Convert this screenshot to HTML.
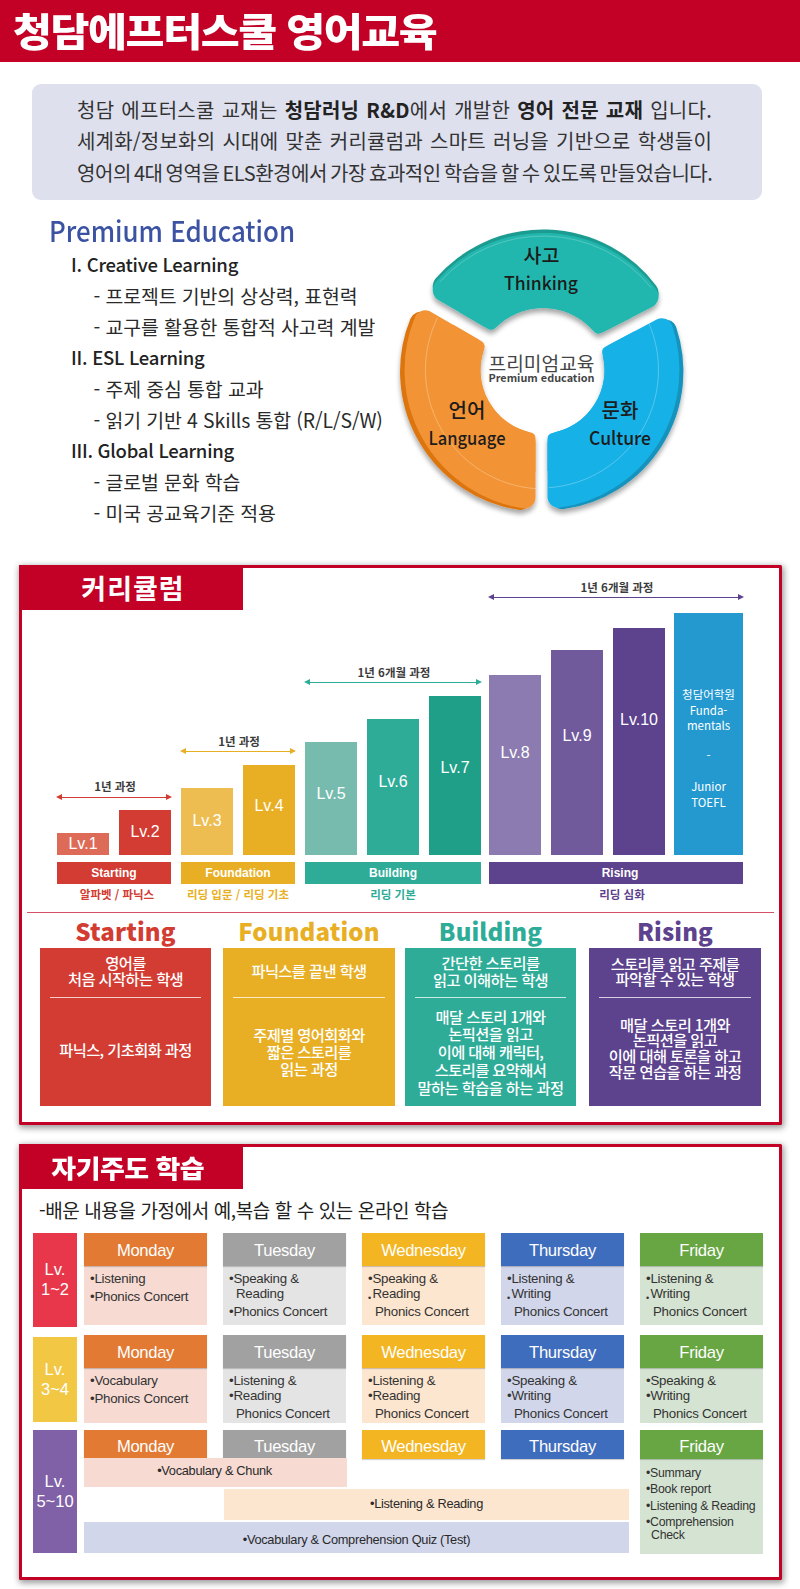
<!DOCTYPE html>
<html lang="ko">
<head>
<meta charset="utf-8">
<title>청담에프터스쿨 영어교육</title>
<style>
*{margin:0;padding:0;box-sizing:border-box}
html,body{width:800px;height:1589px;overflow:hidden;background:#fff}
body{font-family:"Liberation Sans","Noto Sans CJK KR","NanumGothic",sans-serif;color:#222;position:relative}
.k{font-family:"Noto Sans CJK KR","Liberation Sans","NanumGothic",sans-serif}
.abs{position:absolute}
#page{position:absolute;left:0;top:0;width:800px;height:1589px;overflow:hidden;background:#fff}

/* header */
#hdr{left:0;top:0;width:800px;height:61.5px;background:#c30025}
#hdr h1{position:absolute;left:12.5px;top:0.5px;font-size:38.5px;line-height:56px;font-weight:900;color:#fff;letter-spacing:-1.3px;white-space:nowrap;transform:scaleX(1.1);transform-origin:0 50%}

/* intro */
#intro{left:32px;top:84px;width:730px;height:116px;background:#dee0ee;border-radius:9px}
#intro p{position:absolute;left:45px;font-size:20px;line-height:31px;white-space:nowrap;color:#333;letter-spacing:-0.3px}
#intro b{font-weight:700;color:#222}

/* premium list */
#prem{left:49px;top:210px;font-size:28px;line-height:40px;color:#3c53a4;font-weight:500;white-space:nowrap;transform:scaleX(.924);transform-origin:0 50%}
.li1{left:71px;font-size:18.5px;line-height:31px;font-weight:500;color:#222;white-space:nowrap;letter-spacing:-.25px}
.li2{left:93.5px;font-size:19.4px;line-height:31px;font-weight:400;color:#2a2a2a;white-space:nowrap;letter-spacing:-.1px}

/* section frames */
.frame{border:3px solid #c30025;border-radius:1.5px;background:#fff;box-shadow:1px 2px 6px 1px rgba(0,0,0,.4)}
.tab{background:#c30025;color:#fff;font-weight:700;text-align:center;white-space:nowrap}
</style>
</head>
<body>
<div id="page">

<!-- HEADER -->
<div id="hdr" class="abs k"><h1>청담에프터스쿨 영어교육</h1></div>

<!-- INTRO -->
<div id="intro" class="abs k">
<p style="top:10px;letter-spacing:.25px;word-spacing:1.2px">청담 에프터스쿨 교재는 <b>청담러닝 R&amp;D</b>에서 개발한 <b>영어 전문 교재</b> 입니다.</p>
<p style="top:41px;letter-spacing:.2px;word-spacing:1.4px">세계화/정보화의 시대에 맞춘 커리큘럼과 스마트 러닝을 기반으로 학생들이</p>
<p style="top:73px;letter-spacing:-.45px;word-spacing:-2.1px">영어의 4대 영역을 ELS환경에서 가장 효과적인 학습을 할 수 있도록 만들었습니다.</p>
</div>

<!-- PREMIUM LIST -->
<div id="prem" class="abs k">Premium Education</div>
<div class="abs k li1" style="top:249px">I. Creative Learning</div>
<div class="abs k li2" style="top:280px">- 프로젝트 기반의 상상력, 표현력</div>
<div class="abs k li2" style="top:311px">- 교구를 활용한 통합적 사고력 계발</div>
<div class="abs k li1" style="top:342px">II. ESL Learning</div>
<div class="abs k li2" style="top:373px">- 주제 중심 통합 교과</div>
<div class="abs k li2" style="top:404px">- 읽기 기반 4 Skills 통합 (R/L/S/W)</div>
<div class="abs k li1" style="top:435px">III. Global Learning</div>
<div class="abs k li2" style="top:466px">- 글로벌 문화 학습</div>
<div class="abs k li2" style="top:497px">- 미국 공교육기준 적용</div>

<!-- DONUT -->
<!--DONUT-->
<svg class="abs" style="left:380px;top:215px" width="340" height="330" viewBox="380 215 340 330">
<defs><filter id="ds" x="-20%" y="-20%" width="140%" height="150%"><feGaussianBlur in="SourceAlpha" stdDeviation="2.5"/><feOffset dx="0" dy="4"/><feComponentTransfer><feFuncA type="linear" slope=".35"/></feComponentTransfer><feMerge><feMergeNode/><feMergeNode in="SourceGraphic"/></feMerge></filter>
<clipPath id="ci_teal"><circle cx="543" cy="375" r="104.5"/></clipPath>
<clipPath id="ci_orange"><circle cx="544.5" cy="370" r="102"/></clipPath>
<clipPath id="ci_blue"><circle cx="540.5" cy="370" r="101.5"/></clipPath>
</defs>
<g filter="url(#ds)">
<g transform="translate(0 -3.5)"><path d="M444.7 289.9 A130.0 130.0 0 0 1 646.6 296.4 L599.9 320.2 A79.0 79.0 0 0 0 490.2 316.2 Z" fill="#1a9b91" stroke="#1a9b91" stroke-width="24" stroke-linejoin="round"/><path d="M435.6 291.6 A136.0 136.0 0 0 1 655.5 298.6 L598.5 327.6 A73.0 73.0 0 0 0 491.1 323.7 Z" fill="#1a9b91" stroke="#1a9b91" stroke-width="12" stroke-linejoin="round" clip-path="url(#ci_teal)"/></g>
<path d="M444.7 289.9 A130.0 130.0 0 0 1 646.6 296.4 L599.9 320.2 A79.0 79.0 0 0 0 490.2 316.2 Z" fill="#23b7ae" stroke="#23b7ae" stroke-width="24" stroke-linejoin="round"/><path d="M435.6 291.6 A136.0 136.0 0 0 1 655.5 298.6 L598.5 327.6 A73.0 73.0 0 0 0 491.1 323.7 Z" fill="#23b7ae" stroke="#23b7ae" stroke-width="12" stroke-linejoin="round" clip-path="url(#ci_teal)"/>
</g>
<path d="M439.7 282.0 A139.0 139.0 0 0 1 651.0 287.5" fill="none" stroke="#fff" stroke-opacity=".22" stroke-width="1"/>
<g filter="url(#ds)">
<g transform="translate(-4.5 1.5)"><path d="M524.5 497.4 A129.0 129.0 0 0 1 425.1 321.3 L472.6 348.7 A75.0 75.0 0 0 0 524.5 442.3 Z" fill="#dc7410" stroke="#dc7410" stroke-width="22" stroke-linejoin="round"/><path d="M529.5 503.2 A134.0 134.0 0 0 1 422.7 314.1 L478.6 346.4 A70.0 70.0 0 0 0 529.5 438.4 Z" fill="#dc7410" stroke="#dc7410" stroke-width="12" stroke-linejoin="round" clip-path="url(#ci_orange)"/></g>
<path d="M524.5 497.4 A129.0 129.0 0 0 1 425.1 321.3 L472.6 348.7 A75.0 75.0 0 0 0 524.5 442.3 Z" fill="#f29434" stroke="#f29434" stroke-width="22" stroke-linejoin="round"/><path d="M529.5 503.2 A134.0 134.0 0 0 1 422.7 314.1 L478.6 346.4 A70.0 70.0 0 0 0 529.5 438.4 Z" fill="#f29434" stroke="#f29434" stroke-width="12" stroke-linejoin="round" clip-path="url(#ci_orange)"/>
</g>
<path d="M536.2 488.7 A119.0 119.0 0 0 1 437.5 317.8" fill="none" stroke="#fff" stroke-opacity=".28" stroke-width="1"/>
<g filter="url(#ds)">
<g transform="translate(4 1.5)"><path d="M661.8 329.3 A128.0 128.0 0 0 1 558.5 496.7 L558.5 442.8 A75.0 75.0 0 0 0 613.9 354.7 Z" fill="#1793bd" stroke="#1793bd" stroke-width="22" stroke-linejoin="round"/><path d="M664.6 322.1 A133.0 133.0 0 0 1 553.5 502.4 L553.5 438.8 A70.0 70.0 0 0 0 608.2 352.1 Z" fill="#1793bd" stroke="#1793bd" stroke-width="12" stroke-linejoin="round" clip-path="url(#ci_blue)"/></g>
<path d="M661.8 329.3 A128.0 128.0 0 0 1 558.5 496.7 L558.5 442.8 A75.0 75.0 0 0 0 613.9 354.7 Z" fill="#16b1e6" stroke="#16b1e6" stroke-width="22" stroke-linejoin="round"/><path d="M664.6 322.1 A133.0 133.0 0 0 1 553.5 502.4 L553.5 438.8 A70.0 70.0 0 0 0 608.2 352.1 Z" fill="#16b1e6" stroke="#16b1e6" stroke-width="12" stroke-linejoin="round" clip-path="url(#ci_blue)"/>
</g>
<path d="M648.3 322.0 A118.0 118.0 0 0 1 548.7 487.7" fill="none" stroke="#fff" stroke-opacity=".28" stroke-width="1"/>
<g font-family="'Noto Sans CJK KR','Liberation Sans','NanumGothic',sans-serif">
<text x="541.5" y="263" font-size="19.5" font-weight="500" fill="#1c1c1c" text-anchor="middle">사고</text>
<text x="541" y="290" font-size="18.5" font-weight="500" fill="#1c1c1c" text-anchor="middle" textLength="74" lengthAdjust="spacingAndGlyphs">Thinking</text>
<text x="467" y="418" font-size="20" font-weight="500" fill="#1c1c1c" text-anchor="middle">언어</text>
<text x="467" y="445" font-size="18.5" font-weight="500" fill="#1c1c1c" text-anchor="middle" textLength="77" lengthAdjust="spacingAndGlyphs">Language</text>
<text x="620" y="418" font-size="20" font-weight="500" fill="#1c1c1c" text-anchor="middle">문화</text>
<text x="620" y="445" font-size="18.5" font-weight="500" fill="#1c1c1c" text-anchor="middle" textLength="62" lengthAdjust="spacingAndGlyphs">Culture</text>
<text x="541.5" y="370.5" font-size="19.2" font-weight="400" fill="#444" text-anchor="middle">프리미엄교육</text>
<text x="541.5" y="382" font-size="10.5" font-weight="700" fill="#444" text-anchor="middle" textLength="106" lengthAdjust="spacingAndGlyphs">Premium education</text>
</g></svg>
<!--/DONUT-->

<!-- CURRICULUM -->
<!--CURR-->
<style>
.bar{position:absolute;color:#fff;font-size:16px;text-align:center;white-space:nowrap}
.bar span{position:absolute;left:0;right:0;line-height:20px}
.cat{position:absolute;top:862px;height:22px;color:#fff;font-size:12px;font-weight:700;text-align:center;line-height:22px}
.sub{position:absolute;top:886px;height:16px;font-size:11.5px;font-weight:700;text-align:center;line-height:16px;white-space:nowrap}
.arr{position:absolute;height:1px}
.arr:before,.arr:after{content:"";position:absolute;top:-3px;border:3.5px solid transparent}
.arr:before{left:-1px;border-left-width:0;border-right:6px solid currentColor}
.arr:after{right:-1px;border-right-width:0;border-left:6px solid currentColor}
.arr i{position:absolute;left:3px;right:3px;top:0;height:1px;background:currentColor}
.albl{position:absolute;font-size:11.5px;font-weight:700;color:#3c3c3c;padding-left:2px;text-align:center;line-height:14px;white-space:nowrap}
.ttl{position:absolute;top:912.5px;font-size:24px;line-height:36px;font-weight:900;text-align:center;white-space:nowrap;letter-spacing:.15px;z-index:2}
.card{position:absolute;top:948px;height:158px;color:#fff;font-size:15.3px;font-weight:500;text-align:center;letter-spacing:-0.6px}
.card p{position:absolute;left:0;right:0;line-height:18px;white-space:nowrap}
.card hr{position:absolute;left:10px;right:10px;top:49px;border:0;border-top:1px solid rgba(255,255,255,.75)}
</style>
<div class="abs frame" style="left:19px;top:565px;width:763px;height:560px"></div>
<div class="abs tab k" style="left:19px;top:565px;width:224px;height:45px;font-size:27px;line-height:45px;letter-spacing:1px;padding-left:4px">커리큘럼</div>

<!-- bars -->
<div class="bar" style="left:57px;top:833px;width:52px;height:22px;background:#de6b58"><span style="top:1px">Lv.1</span></div>
<div class="bar" style="left:119px;top:810px;width:52px;height:45px;background:#d23c32"><span style="top:12px">Lv.2</span></div>
<div class="bar" style="left:181px;top:788px;width:52px;height:67px;background:#edbd52"><span style="top:23px">Lv.3</span></div>
<div class="bar" style="left:243px;top:765px;width:52px;height:90px;background:#e8af25"><span style="top:31px">Lv.4</span></div>
<div class="bar" style="left:305px;top:742px;width:52px;height:113px;background:#76bbae"><span style="top:42px">Lv.5</span></div>
<div class="bar" style="left:367px;top:719px;width:52px;height:136px;background:#2eac98"><span style="top:53px">Lv.6</span></div>
<div class="bar" style="left:429px;top:696px;width:52px;height:159px;background:#1f9f88"><span style="top:62px">Lv.7</span></div>
<div class="bar" style="left:489px;top:675px;width:52px;height:180px;background:#8c7bb0"><span style="top:68px">Lv.8</span></div>
<div class="bar" style="left:551px;top:650px;width:52px;height:205px;background:#715a9c"><span style="top:76px">Lv.9</span></div>
<div class="bar" style="left:613px;top:628px;width:52px;height:227px;background:#5d428d"><span style="top:82px">Lv.10</span></div>
<div class="bar k" style="left:674px;top:613px;width:69px;height:242px;background:#2499cf;font-size:11.5px">
<span style="top:71px">청담어학원</span><span style="top:87px">Funda-</span><span style="top:102px">mentals</span><span style="top:132px">-</span><span style="top:163px">Junior</span><span style="top:179px">TOEFL</span></div>

<!-- category bars -->
<div class="cat" style="left:57px;width:114px;background:#d23c32">Starting</div>
<div class="cat" style="left:181px;width:114px;background:#e8af25">Foundation</div>
<div class="cat" style="left:305px;width:176px;background:#2eac98">Building</div>
<div class="cat" style="left:489px;width:254px;padding-left:8px;background:#5d428d">Rising</div>
<div class="sub k" style="left:60px;top:885.5px;width:114px;color:#d23c32">알파벳 / 파닉스</div>
<div class="sub k" style="left:181px;width:114px;color:#e8af25">리딩 입문 / 리딩 기초</div>
<div class="sub k" style="left:305px;width:176px;color:#2eac98">리딩 기본</div>
<div class="sub k" style="left:495px;width:254px;color:#5d428d">리딩 심화</div>

<!-- arrows -->
<div class="arr" style="left:57px;top:797px;width:114px;color:#d23c32"><i></i></div>
<div class="albl k" style="left:57px;top:779px;width:114px">1년 과정</div>
<div class="arr" style="left:181px;top:751px;width:114px;color:#e8af25"><i></i></div>
<div class="albl k" style="left:181px;top:734px;width:114px">1년 과정</div>
<div class="arr" style="left:305px;top:682px;width:176px;color:#2eac98"><i></i></div>
<div class="albl k" style="left:305px;top:665px;width:176px">1년 6개월 과정</div>
<div class="arr" style="left:489px;top:597px;width:254px;color:#5d428d"><i></i></div>
<div class="albl k" style="left:489px;top:580px;width:254px">1년 6개월 과정</div>

<div class="abs" style="left:27px;top:912px;width:747px;height:1px;background:#d4506a"></div>

<!-- titles -->
<div class="ttl k" style="left:40px;width:171px;color:#d23c32">Starting</div>
<div class="ttl k" style="left:223px;width:172px;color:#e8af25">Foundation</div>
<div class="ttl k" style="left:405px;width:171px;color:#2eac98">Building</div>
<div class="ttl k" style="left:589px;width:172px;color:#5d428d">Rising</div>

<!-- cards -->
<div class="card k" style="left:40px;width:171px;background:#d23c32"><hr>
<p style="top:5px">영어를</p><p style="top:21px">처음 시작하는 학생</p>
<p style="top:92px">파닉스, 기초회화 과정</p></div>
<div class="card k" style="left:223px;width:172px;background:#e8af25"><hr>
<p style="top:13px">파닉스를 끝낸 학생</p>
<p style="top:77px">주제별 영어회화와</p><p style="top:94px">짧은 스토리를</p><p style="top:111px">읽는 과정</p></div>
<div class="card k" style="left:405px;width:171px;background:#2eac98"><hr>
<p style="top:5px">간단한 스토리를</p><p style="top:22px">읽고 이해하는 학생</p>
<p style="top:59px">매달 스토리 1개와</p><p style="top:76px">논픽션을 읽고</p><p style="top:94px">이에 대해 캐릭터,</p><p style="top:112px">스토리를 요약해서</p><p style="top:130px">말하는 학습을 하는 과정</p></div>
<div class="card k" style="left:589px;width:172px;background:#5d428d"><hr>
<p style="top:6px">스토리를 읽고 주제를</p><p style="top:21px">파악할 수 있는 학생</p>
<p style="top:67px">매달 스토리 1개와</p><p style="top:82px">논픽션을 읽고</p><p style="top:98px">이에 대해 토론을 하고</p><p style="top:114px">작문 연습을 하는 과정</p></div>
<!--/CURR-->

<!-- SELF STUDY -->
<!--SELF-->
<style>
.lv{position:absolute;left:33px;width:44px;color:#fff;font-size:16.5px;line-height:20px;text-align:center}
.lv span{position:absolute;left:-4px;right:-4px}
.dh{position:absolute;width:123px;height:33px;color:#fff;font-size:16.6px;line-height:36.5px;text-align:center;letter-spacing:-0.3px;box-shadow:0 1px 1px rgba(0,0,0,.18)}
.db{position:absolute;width:123px;font-size:13.3px;color:#333;letter-spacing:-0.25px}
.db p{position:absolute;left:6px;line-height:15px;white-space:nowrap}
.db p.n{left:13px}
.lo{font-size:9px;position:relative;top:3px;margin-right:1.5px}
.mon{background:#e27a33}.tue{background:#a1a1a1}.wed{background:#f3b521}.thu{background:#3f6dbd}.fri{background:#68a644}
.monb{background:#f7dad2}.tueb{background:#e4e4e4}.wedb{background:#fde6cf}.thub{background:#d1d6ea}.frib{background:#d5e4d2}
.wb{position:absolute;font-size:12.8px;color:#2a2a2a;text-align:center;letter-spacing:-0.3px;white-space:nowrap}
</style>
<div class="abs frame" style="left:19px;top:1144px;width:763px;height:436px"></div>
<div class="abs tab k" style="left:19px;top:1144px;width:224px;height:45px;font-size:25px;line-height:46px;font-weight:900;letter-spacing:-0.5px"><span style="display:inline-block;transform:scaleX(1.08);margin-left:-7px">자기주도 학습</span></div>
<div class="abs k" style="left:39px;top:1196px;font-size:19px;line-height:28px;color:#222;white-space:nowrap;letter-spacing:-0.4px">-배운 내용을 가정에서 예,복습 할 수 있는 온라인 학습</div>

<!-- row 1 -->
<div class="lv" style="top:1233px;height:94px;background:#e8364a"><span style="top:26px">Lv.</span><span style="top:46px">1~2</span></div>
<div class="db monb" style="left:84px;top:1264px;height:61px"><p style="top:7px">•Listening</p><p style="top:25px">•Phonics Concert</p></div>
<div class="db tueb" style="left:223px;top:1264px;height:61px"><p style="top:7px">•Speaking &amp;</p><p class="n" style="top:22px">Reading</p><p style="top:40px">•Phonics Concert</p></div>
<div class="db wedb" style="left:362px;top:1264px;height:61px"><p style="top:7px">•Speaking &amp;</p><p style="top:22px"><span class="lo">•</span>Reading</p><p class="n" style="top:40px">Phonics Concert</p></div>
<div class="db thub" style="left:501px;top:1264px;height:61px"><p style="top:7px">•Listening &amp;</p><p style="top:22px"><span class="lo">•</span>Writing</p><p class="n" style="top:40px">Phonics Concert</p></div>
<div class="db frib" style="left:640px;top:1264px;height:61px"><p style="top:7px">•Listening &amp;</p><p style="top:22px"><span class="lo">•</span>Writing</p><p class="n" style="top:40px">Phonics Concert</p></div>
<div class="dh mon" style="left:84px;top:1233px">Monday</div>
<div class="dh tue" style="left:223px;top:1233px">Tuesday</div>
<div class="dh wed" style="left:362px;top:1233px">Wednesday</div>
<div class="dh thu" style="left:501px;top:1233px">Thursday</div>
<div class="dh fri" style="left:640px;top:1233px">Friday</div>

<!-- row 2 -->
<div class="lv" style="top:1337px;height:85px;background:#f2c744"><span style="top:22px">Lv.</span><span style="top:42px">3~4</span></div>
<div class="db monb" style="left:84px;top:1366px;height:57px"><p style="top:7px">•Vocabulary</p><p style="top:25px">•Phonics Concert</p></div>
<div class="db tueb" style="left:223px;top:1366px;height:57px"><p style="top:7px">•Listening &amp;</p><p style="top:22px">•Reading</p><p class="n" style="top:40px">Phonics Concert</p></div>
<div class="db wedb" style="left:362px;top:1366px;height:57px"><p style="top:7px">•Listening &amp;</p><p style="top:22px">•Reading</p><p class="n" style="top:40px">Phonics Concert</p></div>
<div class="db thub" style="left:501px;top:1366px;height:57px"><p style="top:7px">•Speaking &amp;</p><p style="top:22px">•Writing</p><p class="n" style="top:40px">Phonics Concert</p></div>
<div class="db frib" style="left:640px;top:1366px;height:57px"><p style="top:7px">•Speaking &amp;</p><p style="top:22px">•Writing</p><p class="n" style="top:40px">Phonics Concert</p></div>
<div class="dh mon" style="left:84px;top:1335px">Monday</div>
<div class="dh tue" style="left:223px;top:1335px">Tuesday</div>
<div class="dh wed" style="left:362px;top:1335px">Wednesday</div>
<div class="dh thu" style="left:501px;top:1335px">Thursday</div>
<div class="dh fri" style="left:640px;top:1335px">Friday</div>

<!-- row 3 -->
<div class="lv" style="top:1430px;height:123px;background:#8060a6"><span style="top:41px">Lv.</span><span style="top:61px">5~10</span></div>
<div class="dh mon" style="left:84px;top:1430px;height:29px;line-height:34px">Monday</div>
<div class="dh tue" style="left:223px;top:1430px;height:29px;line-height:34px">Tuesday</div>
<div class="dh wed" style="left:362px;top:1430px;height:29px;line-height:34px">Wednesday</div>
<div class="dh thu" style="left:501px;top:1430px;height:29px;line-height:34px">Thursday</div>
<div class="wb monb" style="left:84px;top:1458px;width:263px;height:29px;line-height:26px;text-indent:-2px">•Vocabulary &amp; Chunk</div>
<div class="wb wedb" style="left:224px;top:1489px;width:405px;height:31px;line-height:29px">•Listening &amp; Reading</div>
<div class="wb thub" style="left:84px;top:1522px;width:545px;height:31px;line-height:36px">•Vocabulary &amp; Comprehension Quiz (Test)</div>
<div class="db frib" style="left:640px;top:1459px;height:95px;font-size:12.3px"><p style="top:7px">•Summary</p><p style="top:23px">•Book report</p><p style="top:40px">•Listening &amp; Reading</p><p style="top:56px">•Comprehension</p><p class="n" style="top:69px;left:11px">Check</p></div>
<div class="dh fri" style="left:640px;top:1430px;height:29px;line-height:34px">Friday</div>
<!--/SELF-->

</div>
</body>
</html>
